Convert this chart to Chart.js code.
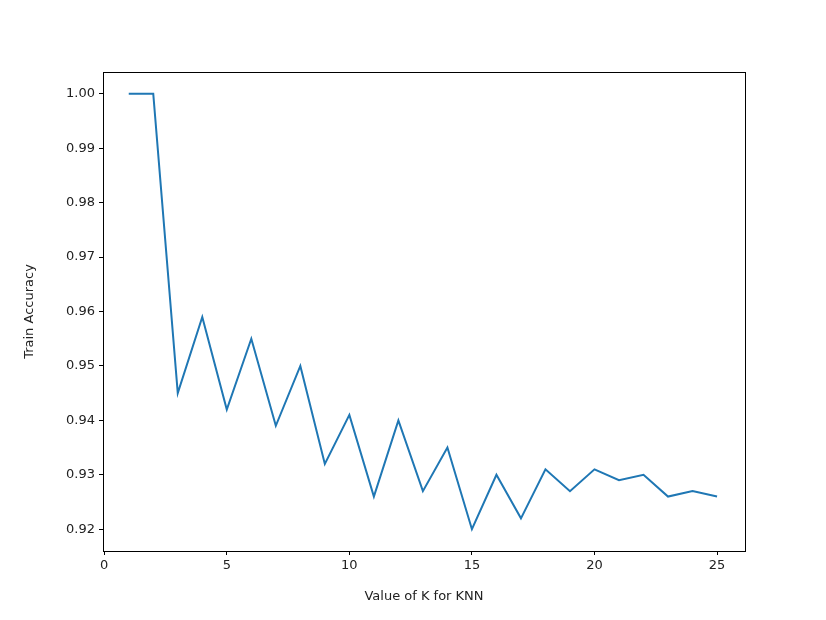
<!DOCTYPE html>
<html>
<head>
<meta charset="utf-8">
<script src="https://cdn.jsdelivr.net/npm/chart.js@4/dist/chart.umd.min.js"></script>
<style>
  html, body { margin: 0; padding: 0; background: #fff; }
  #wrap { width: 826px; height: 620px; }
</style>
</head>
<body>
<div id="wrap"><canvas id="knnChart"></canvas></div>
<script>
// K values and train accuracy
const kValues = [1, 2, 3, 4, 5, 6, 7, 8, 9, 10, 11, 12, 13, 14, 15, 16, 17, 18, 19, 20, 21, 22, 23, 24, 25];
const trainAccuracy = [1.000, 1.000, 0.945, 0.959, 0.942, 0.955, 0.939, 0.950, 0.932, 0.941, 0.926, 0.940,
  0.927, 0.935, 0.920, 0.930, 0.922, 0.931, 0.927, 0.931, 0.929, 0.930, 0.926, 0.927, 0.926];
const xTicks = [0, 5, 10, 15, 20, 25];
const yTicks = [0.92, 0.93, 0.94, 0.95, 0.96, 0.97, 0.98, 0.99, 1.00];

const FONT = { family: 'DejaVu Sans', size: 13 };

// frame around the plot area, like matplotlib spines
const frame = {
  id: 'frame',
  afterDraw(chart) {
    const { ctx, chartArea: a } = chart;
    ctx.save();
    ctx.strokeStyle = '#000';
    ctx.lineWidth = 1;
    ctx.strokeRect(a.left + 0.5, a.top + 0.5, a.right - a.left, a.bottom - a.top);
    ctx.restore();
  }
};

new Chart(document.getElementById('knnChart'), {
  type: 'line',
  data: {
    datasets: [{
      data: kValues.map((k, i) => ({ x: k, y: trainAccuracy[i] })),
      borderColor: '#1f77b4',
      borderWidth: 2,
      pointRadius: 0,
      tension: 0,
      fill: false
    }]
  },
  options: {
    responsive: true,
    maintainAspectRatio: false,
    animation: false,
    layout: { padding: { top: 72, right: 81, left: 20, bottom: 0 } },
    plugins: { legend: { display: false }, tooltip: { enabled: false } },
    scales: {
      x: {
        type: 'linear',
        min: -0.05,
        max: 26.14,
        afterBuildTicks: s => { s.ticks = xTicks.map(v => ({ value: v })); },
        afterFit: s => { s.height = 69; },
        grid: { drawOnChartArea: false, drawTicks: true, tickLength: 4, color: '#000' },
        border: { display: false },
        ticks: { color: '#222', font: FONT, padding: 3, maxRotation: 0 },
        title: { display: true, text: 'Value of K for KNN', color: '#222', font: FONT, padding: { top: 2, bottom: 16 } }
      },
      y: {
        min: 0.916,
        max: 1.004,
        afterBuildTicks: s => { s.ticks = yTicks.map(v => ({ value: v })); },
        afterFit: s => { s.width = 83; },
        grid: { drawOnChartArea: false, drawTicks: true, tickLength: 4, color: '#000' },
        border: { display: false },
        ticks: { color: '#222', font: FONT, padding: 4, callback: v => v.toFixed(2) },
        title: { display: true, text: 'Train Accuracy', color: '#222', font: FONT, padding: { top: 2, bottom: 4 } }
      }
    }
  },
  plugins: [frame]
});
</script>
</body>
</html>
